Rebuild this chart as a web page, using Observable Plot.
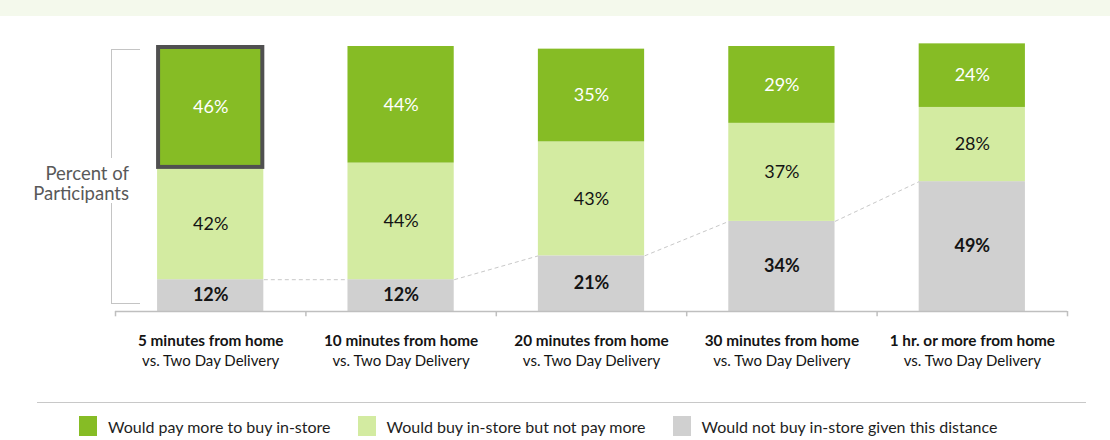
<!DOCTYPE html>
<html><head><meta charset="utf-8">
<script src="https://cdn.jsdelivr.net/npm/d3@7"></script>
<script src="https://cdn.jsdelivr.net/npm/@observablehq/plot@0.6"></script>
<style>
html,body{margin:0;padding:0;background:#fff;width:1110px;height:440px;overflow:hidden;font-family:Lato,"Open Sans",sans-serif;}
#band{position:absolute;left:0;top:0;width:1110px;height:16px;background:#f4f9ec;}
#chart{position:absolute;left:0;top:16px;width:1110px;height:374px;}
#chart svg{display:block;}
#bracket{position:absolute;left:111px;top:33px;width:29px;height:255px;border:1.5px solid #c4c4c4;border-right:none;box-sizing:border-box;}
#ylabel{position:absolute;right:981px;top:142px;padding:5px 0 0 6px;text-align:right;background:#fff;color:#595959;font-size:18.5px;line-height:20px;white-space:nowrap;}
#rule{position:absolute;left:37px;top:402px;width:1049px;height:0;border-top:1px solid #c8c8c8;}
#legend{position:absolute;left:79px;top:414px;height:24px;display:flex;align-items:center;font-size:16px;color:#1e1e1e;white-space:nowrap;}
#legend .item{display:flex;align-items:center;margin-right:27px;}
#legend .sw{width:18px;height:20px;margin-right:11px;}
</style>
</head><body>
<div id="band"></div>
<div id="chart"></div>
<div id="rule"></div>
<div id="legend"></div>
<script>
const categories = ["5 minutes from home", "10 minutes from home", "20 minutes from home", "30 minutes from home", "1 hr. or more from home"];
const subLabels = ["vs. Two Day Delivery", "vs. Two Day Delivery", "vs. Two Day Delivery", "vs. Two Day Delivery", "vs. Two Day Delivery"];
const wouldNot = [12, 12, 21, 34, 49];
const buyNoPay = [42, 44, 43, 37, 28];
const payMore = [46, 44, 35, 29, 24];
const seriesNames = ["Would not buy in-store given this distance", "Would buy in-store but not pay more", "Would pay more to buy in-store"];
const seriesColors = ["#d0d0d0", "#d3eba1", "#86bc25"];
const labelColors = ["#141414", "#141414", "#ffffff"];
const highlightIndex = 0;
const yLabel = ["Percent of", "Participants"];

const n = categories.length;
const hw = 0.279; // half bar width in band units
const seriesValues = [wouldNot, buyNoPay, payMore];
const rows = [];
categories.forEach((c, i) => {
  let acc = 0;
  seriesValues.forEach((vals, s) => {
    rows.push({i, s, y1: acc, y2: acc + vals[i], v: vals[i]});
    acc += vals[i];
  });
});
const idx = d3.range(n);
const gaps = d3.range(n - 1);
const boundaries = d3.range(n + 1).map(k => k - 0.5);
const hl = [{i: highlightIndex, y1: wouldNot[highlightIndex] + buyNoPay[highlightIndex], y2: wouldNot[highlightIndex] + buyNoPay[highlightIndex] + payMore[highlightIndex]}];

const chart = Plot.plot({
  width: 1110, height: 374,
  marginLeft: 115, marginRight: 43, marginTop: 30, marginBottom: 79,
  x: {domain: [-0.5, n - 0.5], axis: null},
  y: {domain: [0, 100], axis: null},
  color: {type: "identity"},
  style: {fontFamily: "Lato, 'Open Sans', sans-serif", background: "transparent", overflow: "visible"},
  marks: [
    Plot.link(gaps, {x1: d => d + hw, x2: d => d + 1 - hw, y1: d => wouldNot[d], y2: d => wouldNot[d + 1], stroke: "#c8c8c8", strokeWidth: 1, strokeDasharray: "4,3"}),
    Plot.rect(rows, {x1: d => d.i - hw, x2: d => d.i + hw, y1: "y1", y2: "y2", fill: d => seriesColors[d.s]}),
    Plot.rect(hl, {x1: d => d.i - hw, x2: d => d.i + hw, y1: "y1", y2: "y2", fill: "none", stroke: "#505050", strokeWidth: 4, inset: 1}),
    Plot.text(rows.filter(d => d.s === 0), {x: "i", y: d => (d.y1 + d.y2) / 2, text: d => d.v + "%", fill: d => labelColors[d.s], fontSize: 18, fontWeight: "bold"}),
    Plot.text(rows.filter(d => d.s !== 0), {x: "i", y: d => (d.y1 + d.y2) / 2, text: d => d.v + "%", fill: d => labelColors[d.s], fontSize: 18}),
    Plot.ruleY([0], {x1: boundaries[0], x2: boundaries[n], stroke: "#bfbfbf", strokeWidth: 1.5}),
    Plot.ruleX(boundaries, {y1: 0, y2: -2, stroke: "#bfbfbf", strokeWidth: 1.5}),
    Plot.text(idx, {x: d => d, y: () => 0, dy: 30, text: d => categories[d], fontSize: 15.3, fontWeight: "bold", fill: "#141414"}),
    Plot.text(idx, {x: d => d, y: () => 0, dy: 50, text: d => subLabels[d], fontSize: 15, fill: "#141414"})
  ]
});
const host = document.getElementById("chart");
host.appendChild(chart);
const br = document.createElement("div"); br.id = "bracket"; host.appendChild(br);
const yl = document.createElement("div"); yl.id = "ylabel"; yl.innerHTML = yLabel.join("<br>"); host.appendChild(yl);

const legend = document.getElementById("legend");
[2, 1, 0].forEach(s => {
  const it = document.createElement("div"); it.className = "item";
  const sw = document.createElement("div"); sw.className = "sw"; sw.style.background = seriesColors[s];
  const tx = document.createElement("span"); tx.textContent = seriesNames[s];
  it.appendChild(sw); it.appendChild(tx); legend.appendChild(it);
});
</script>
</body></html>
